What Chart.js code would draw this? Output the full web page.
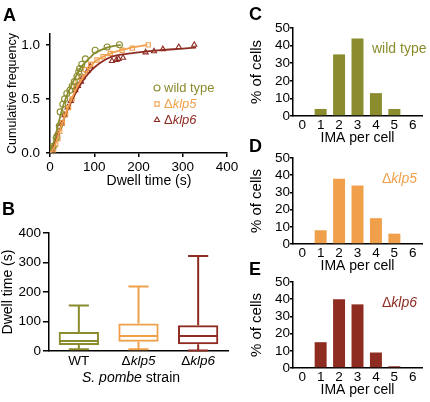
<!DOCTYPE html>
<html>
<head>
<meta charset="utf-8">
<title>Dwell time and IMA per cell</title>
<script src="https://cdn.jsdelivr.net/npm/chart.js@4.4.1/dist/chart.umd.min.js"></script>
<style>
  body { margin: 0; background: #fff; }
  #fig { position: relative; width: 430px; height: 402px; overflow: hidden; font-family: "Liberation Sans", Arial, sans-serif; }
  #fig canvas { position: absolute; }
  .panel { position: absolute; font-weight: bold; font-size: 18px; line-height: 18px; }
</style>
</head>
<body>
<div id="fig">
  <canvas id="chartA" width="250" height="195" style="left:0;top:0"></canvas>
  <canvas id="chartB" width="232" height="207" style="left:0;top:195px"></canvas>
  <canvas id="chartC" width="215" height="147" style="left:215px;top:0"></canvas>
  <canvas id="chartD" width="215" height="140" style="left:215px;top:135px"></canvas>
  <canvas id="chartE" width="215" height="134" style="left:215px;top:265px"></canvas>
  <div class="panel" style="left:3px;top:6px">A</div>
  <div class="panel" style="left:2px;top:200px">B</div>
  <div class="panel" style="left:249px;top:5px">C</div>
  <div class="panel" style="left:249px;top:137px">D</div>
  <div class="panel" style="left:249px;top:260px">E</div>
</div>
<script>
// strains
const strainNames = ['wild type', 'Δklp5', 'Δklp6']
const strainShort = ['WT', 'Δklp5', 'Δklp6']
const strainColors = ['#8a8c2e', '#f0a04b', '#8e2c22']
const markerStyles = ['circle', 'rect', 'triangle']

// A: cumulative frequency of dwell times (measured points)
const wtTimes = [7, 14, 21, 23, 29, 33, 38, 45, 50, 55, 61, 65, 67, 72, 80, 102, 129, 157]
const wtFreq = [0.06, 0.14, 0.25, 0.38, 0.45, 0.5, 0.55, 0.58, 0.62, 0.66, 0.71, 0.75, 0.78, 0.82, 0.87, 0.95, 0.98, 1.0]
const klp5Times = [8, 13, 18, 22, 28, 35, 42, 50, 58, 63, 70, 80, 92, 106, 120, 136, 163, 186, 222]
const klp5Freq = [0.03, 0.08, 0.13, 0.2, 0.28, 0.36, 0.42, 0.5, 0.6, 0.66, 0.7, 0.77, 0.82, 0.86, 0.89, 0.92, 0.95, 0.97, 1.0]
const klp6Times = [4, 7, 16, 26, 33, 40, 47, 57, 63, 70, 74, 85, 91, 140, 150, 155, 165, 216, 235, 255, 291, 326]
const klp6Freq = [0.03, 0.06, 0.18, 0.27, 0.35, 0.42, 0.48, 0.58, 0.62, 0.66, 0.7, 0.76, 0.8, 0.85, 0.86, 0.87, 0.88, 0.93, 0.94, 0.96, 0.98, 1.0]

// A: fitted curves
const wtFitTimes = [0, 10, 20, 30, 40, 50, 60, 70, 80, 90, 100, 120, 140, 160]
const wtFitFreq = [0.02, 0.12, 0.29, 0.44, 0.55, 0.64, 0.72, 0.79, 0.84, 0.88, 0.92, 0.96, 0.985, 1.0]
const klp5FitTimes = [0, 10, 20, 30, 40, 50, 60, 70, 80, 90, 100, 120, 140, 160, 180, 200, 220]
const klp5FitFreq = [0, 0.06, 0.18, 0.3, 0.41, 0.51, 0.6, 0.67, 0.73, 0.79, 0.84, 0.89, 0.925, 0.95, 0.97, 0.985, 1.0]
const klp6FitTimes = [0, 10, 20, 30, 40, 50, 60, 70, 80, 90, 100, 120, 140, 160, 180, 200, 250, 300, 330]
const klp6FitFreq = [0.02, 0.09, 0.19, 0.3, 0.4, 0.49, 0.57, 0.64, 0.7, 0.75, 0.79, 0.85, 0.89, 0.91, 0.92, 0.93, 0.95, 0.965, 0.975]

const dwellTicks = [0, 100, 200, 300, 400]
const freqTicks = [0, 0.5, 1.0]

// B: box plot of dwell time (s)
const boxMin = [6, 6, 2]
const boxQ1 = [20, 31, 23]
const boxMed = [34, 51, 51]
const boxQ3 = [64, 93, 87]
const boxMax = [154, 219, 322]

// C-E: IMA per cell (% of cells)
const imaLabels = ['0', '1', '2', '3', '4', '5', '6']
const wtIma = [0, 4, 35, 44, 13, 4, 0]
const klp5Ima = [0, 8, 38, 34, 15, 6, 0]
const klp6Ima = [0, 15, 40, 37, 9, 1, 0]

const dwellAxisTitle = 'Dwell time (s)'
const strainAxisTitle = [['S. pombe', true], [' strain', false]]

const FONT = '"Liberation Sans", Arial, sans-serif'
Chart.defaults.font.family = FONT
Chart.defaults.color = '#000'
Chart.defaults.animation = false
Chart.defaults.plugins.legend.display = false
Chart.defaults.plugins.tooltip.enabled = false

function richParts(label) {
    // gene names are italic, the delta is not
    if (label.startsWith('Δ'))
        return [['Δ', false], [label.slice(1), true]]
    return [[label, false]]
}

function drawRich(ctx, parts, x, y, size, color, align) {
    ctx.save()
    ctx.fillStyle = color
    ctx.textBaseline = 'middle'
    ctx.textAlign = 'left'
    let fonts = parts.map(p => (p[1] ? 'italic ' : '') + size + 'px ' + FONT)
    let widths = parts.map((p, i) => { ctx.font = fonts[i]; return ctx.measureText(p[0]).width })
    let total = widths.reduce((a, b) => a + b, 0)
    let cx = align === 'center' ? x - total / 2 : x
    parts.forEach((p, i) => {
        ctx.font = fonts[i]
        ctx.fillText(p[0], cx, y)
        cx += widths[i]
    })
    ctx.restore()
}

function drawMarker(ctx, style, x, y, r, color) {
    ctx.save()
    ctx.strokeStyle = color
    ctx.lineWidth = 1.1
    ctx.beginPath()
    if (style === 'circle') {
        ctx.arc(x, y, r, 0, Math.PI * 2)
    } else if (style === 'rect') {
        let s = r * Math.SQRT1_2
        ctx.rect(x - s, y - s, 2 * s, 2 * s)
    } else {
        let a = 0
        ctx.moveTo(x + Math.sin(a) * r, y - Math.cos(a) * r)
        a += Math.PI * 2 / 3
        ctx.lineTo(x + Math.sin(a) * r, y - Math.cos(a) * r)
        a += Math.PI * 2 / 3
        ctx.lineTo(x + Math.sin(a) * r, y - Math.cos(a) * r)
        ctx.closePath()
    }
    ctx.stroke()
    ctx.restore()
}

function axisLine() {
    return { color: '#000', width: 1.5 }
}

function fixY(w) {
    return s => { s.width = w; s.paddingTop = 0; s.paddingBottom = 0 }
}

function fixX(h) {
    return s => { s.height = h; s.paddingLeft = 0; s.paddingRight = 0 }
}

function dwellChart(id) {
    const fits = [[wtFitTimes, wtFitFreq], [klp5FitTimes, klp5FitFreq], [klp6FitTimes, klp6FitFreq]]
    const series = [[wtTimes, wtFreq], [klp5Times, klp5Freq], [klp6Times, klp6Freq]]
    let datasets = []
    fits.forEach((f, i) => datasets.push({
        data: f[0].map((t, k) => ({ x: t, y: f[1][k] })),
        showLine: true,
        borderColor: strainColors[i],
        borderWidth: 1.8,
        pointRadius: 0,
        cubicInterpolationMode: 'monotone'
    }))
    series.forEach((s, i) => datasets.push({
        data: s[0].map((t, k) => ({ x: t, y: s[1][k] })),
        showLine: false,
        pointStyle: markerStyles[i],
        pointRadius: 3,
        pointBorderWidth: 1.1,
        pointBorderColor: strainColors[i],
        pointBackgroundColor: 'rgba(255,255,255,0)'
    }))

    const legendPlugin = {
        id: 'strainLegend',
        afterDraw(chart) {
            let ctx = chart.ctx
            strainNames.forEach((name, i) => {
                let y = 88 + i * 16
                drawMarker(ctx, markerStyles[i], 157, y, 3, strainColors[i])
                drawRich(ctx, richParts(name), 164, y, 13, strainColors[i], 'left')
            })
            drawRich(ctx, [[dwellAxisTitle, false]], 149, 181.5, 14, '#000', 'center')
        }
    }

    let ctx = document.getElementById(id).getContext('2d')
    return new Chart(ctx, {
        type: 'scatter',
        data: { datasets: datasets },
        options: {
            responsive: false,
            devicePixelRatio: 1,
            layout: { padding: { left: 0, top: 34, right: 23, bottom: 0 } },
            scales: {
                x: {
                    type: 'linear', min: 0, max: 400,
                    afterBuildTicks: s => { s.ticks = dwellTicks.map(v => ({ value: v })) },
                    grid: { drawOnChartArea: false, tickLength: 4, color: '#000', lineWidth: 1.5 },
                    border: axisLine(),
                    ticks: { padding: 2, font: { size: 13.5 } },
                    afterFit: fixX(42)
                },
                y: {
                    min: 0, max: 1.1,
                    afterBuildTicks: s => { s.ticks = freqTicks.map(v => ({ value: v })) },
                    grid: { drawOnChartArea: false, tickLength: 4, color: '#000', lineWidth: 1.5 },
                    border: axisLine(),
                    ticks: { padding: 6, font: { size: 13.5 }, callback: v => v.toFixed(1) },
                    title: { display: true, text: 'Cumulative frequency', font: { size: 12.5 }, padding: { top: 5, bottom: 0 } },
                    afterFit: fixY(50)
                }
            }
        },
        plugins: [legendPlugin]
    })
}

function boxChart(id) {
    const whiskerPlugin = {
        id: 'whiskers',
        afterDatasetsDraw(chart) {
            let ctx = chart.ctx
            let x = chart.scales.x, y = chart.scales.y
            let bars = chart.getDatasetMeta(0).data
            ctx.save()
            ctx.lineWidth = 2
            strainShort.forEach((lbl, i) => {
                let cx = x.getPixelForValue(i)
                let half = bars[i].width / 2
                let cap = half / 2
                let yMax = y.getPixelForValue(boxMax[i])
                let yMin = y.getPixelForValue(boxMin[i])
                let yMed = y.getPixelForValue(boxMed[i])
                ctx.strokeStyle = strainColors[i]
                ctx.beginPath()
                ctx.moveTo(cx - half + 1, yMed); ctx.lineTo(cx + half - 1, yMed)
                ctx.moveTo(cx, y.getPixelForValue(boxQ3[i])); ctx.lineTo(cx, yMax)
                ctx.moveTo(cx - cap, yMax); ctx.lineTo(cx + cap, yMax)
                ctx.moveTo(cx, y.getPixelForValue(boxQ1[i])); ctx.lineTo(cx, yMin)
                ctx.moveTo(cx - cap, yMin); ctx.lineTo(cx + cap, yMin)
                ctx.stroke()
                drawRich(ctx, richParts(lbl), cx, 166.5, 13.5, '#000', 'center')
            })
            ctx.restore()
            drawRich(ctx, strainAxisTitle, 131, 183.5, 14, '#000', 'center')
        }
    }

    let ctx = document.getElementById(id).getContext('2d')
    return new Chart(ctx, {
        type: 'bar',
        data: {
            labels: strainShort,
            datasets: [{
                data: boxQ1.map((q, i) => [q, boxQ3[i]]),
                backgroundColor: 'rgba(255,255,255,0)',
                borderColor: strainColors,
                borderWidth: 2,
                borderSkipped: false,
                barPercentage: 0.675,
                categoryPercentage: 1
            }]
        },
        options: {
            responsive: false,
            devicePixelRatio: 1,
            layout: { padding: { left: 0, top: 38, right: 4, bottom: 0 } },
            scales: {
                x: {
                    grid: { display: false, drawTicks: false },
                    border: axisLine(),
                    ticks: { display: false },
                    afterFit: fixX(51)
                },
                y: {
                    min: 0, max: 400,
                    grid: { drawOnChartArea: false, tickLength: 6, color: '#000', lineWidth: 1.5 },
                    border: axisLine(),
                    ticks: { stepSize: 100, padding: 2, autoSkip: false, font: { size: 13.5 } },
                    title: { display: true, text: dwellAxisTitle, font: { size: 14 }, padding: { top: 0, bottom: 0 } },
                    afterFit: fixY(49)
                }
            }
        },
        plugins: [whiskerPlugin]
    })
}

function imaChart(id, values, color, note, noteX, top, plotH) {
    let el = document.getElementById(id)
    const notePlugin = {
        id: 'note',
        afterDraw(chart) {
            drawRich(chart.ctx, richParts(note), noteX, chart.chartArea.top + 21, 14, color, 'left')
        }
    }
    return new Chart(el.getContext('2d'), {
        type: 'bar',
        data: {
            labels: imaLabels,
            datasets: [{
                data: values,
                backgroundColor: color,
                barPercentage: 0.65,
                categoryPercentage: 1
            }]
        },
        options: {
            responsive: false,
            devicePixelRatio: 1,
            layout: { padding: { left: 0, top: top, right: 8, bottom: 0 } },
            scales: {
                x: {
                    grid: { display: false, drawTicks: false, tickLength: 0 },
                    border: axisLine(),
                    ticks: { padding: 1, font: { size: 13.5 } },
                    title: { display: true, text: 'IMA per cell', font: { size: 14 }, padding: 0 },
                    afterFit: fixX(el.height - top - plotH)
                },
                y: {
                    min: 0, max: 50,
                    grid: { drawOnChartArea: false, tickLength: 3, color: '#000', lineWidth: 1.5 },
                    border: axisLine(),
                    ticks: { stepSize: 10, padding: 0, autoSkip: false, font: { size: 13.5 } },
                    title: { display: true, text: '% of cells', font: { size: 15 }, padding: { top: 33, bottom: 0 } },
                    afterFit: fixY(78)
                }
            }
        },
        plugins: [notePlugin]
    })
}

dwellChart('chartA')
boxChart('chartB')
imaChart('chartC', wtIma, strainColors[0], strainNames[0], 157, 28, 88)
imaChart('chartD', klp5Ima, strainColors[1], strainNames[1], 167, 23, 86)
imaChart('chartE', klp6Ima, strainColors[2], strainNames[2], 167, 17, 86)
</script>
</body>
</html>
